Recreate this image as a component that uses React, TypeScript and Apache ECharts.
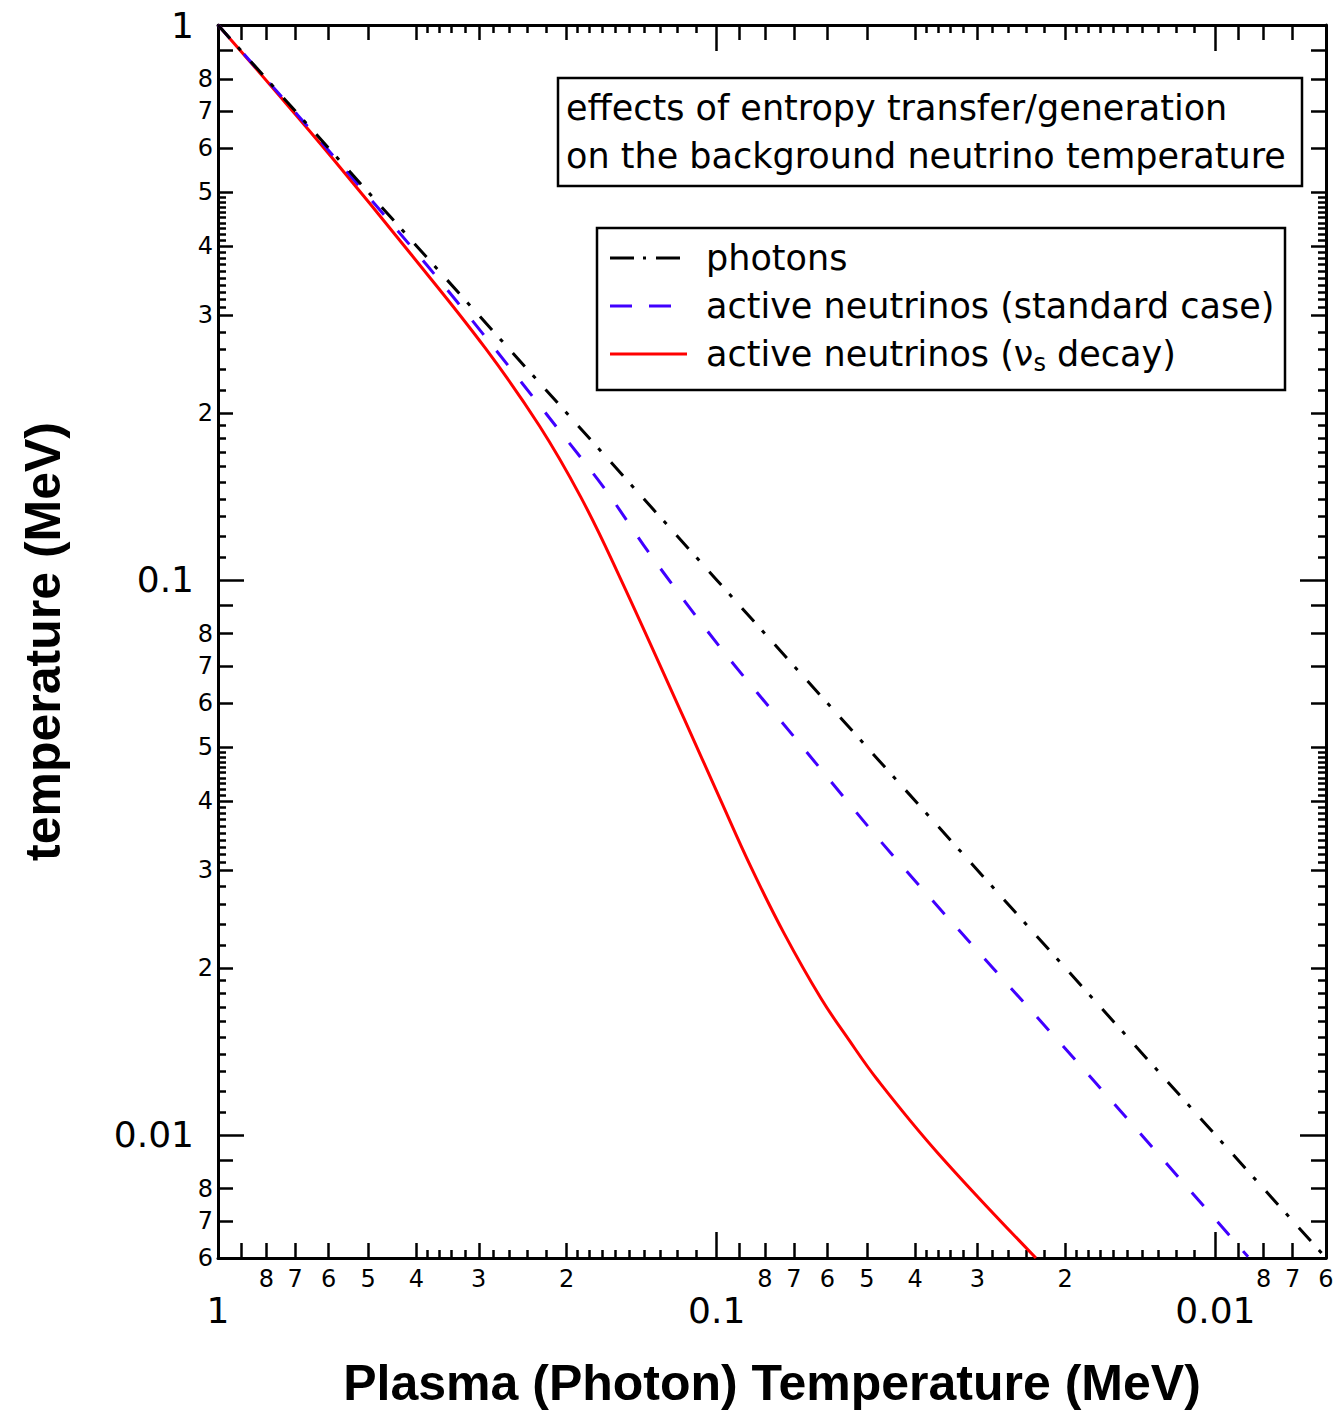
import React, { useEffect, useRef } from "react";
import * as echarts from "echarts";

// ---- data (MeV) ----
// x: plasma (photon) temperature, y: temperature
const photonX = [1, 0.1, 0.01, 0.006];
const photonY = [1, 0.1, 0.01, 0.006];

const standardX = [1, 0.8, 0.6, 0.381, 0.288, 0.2095, 0.167, 0.1357, 0.0982, 0.07, 0.0441, 0.0176, 0.0086];
const standardY = [1, 0.798, 0.594, 0.369, 0.271, 0.1887, 0.1453, 0.1109, 0.0754, 0.0522, 0.0317, 0.01257, 0.00603];

const decayX = [1, 0.768, 0.5877, 0.4117, 0.291, 0.2266, 0.1875, 0.1588, 0.1163, 0.0982, 0.0854, 0.0733, 0.0618, 0.0543, 0.0476, 0.036, 0.0229];
const decayY = [1, 0.761, 0.5735, 0.3879, 0.2616, 0.1894, 0.1413, 0.1042, 0.0563, 0.0401, 0.0304, 0.0231, 0.01763, 0.01483, 0.01257, 0.00927, 0.006];

// ---- tick values ----
const majorTicks = [1, 0.1, 0.01];
const mediumTicks = [0.9, 0.8, 0.7, 0.6, 0.5, 0.4, 0.3, 0.2, 0.09, 0.08, 0.07, 0.06, 0.05, 0.04, 0.03, 0.02, 0.009, 0.008, 0.007, 0.006];
const minorLabels = [0.8, 0.7, 0.6, 0.5, 0.4, 0.3, 0.2, 0.08, 0.07, 0.06, 0.05, 0.04, 0.03, 0.02, 0.008, 0.007, 0.006];
const smallDecades = [1, 0.1];
const xSmallMantissas = [0.38, 0.36, 0.34, 0.32, 0.28, 0.26, 0.24, 0.22, 0.19, 0.18, 0.17, 0.16, 0.15, 0.14, 0.13, 0.12, 0.11];
const ySmallMantissas = [0.49, 0.48, 0.47, 0.46, 0.45, 0.44, 0.43, 0.42, 0.41, 0.39, 0.38, 0.37, 0.36, 0.35, 0.34, 0.33, 0.32, 0.31, 0.28, 0.26, 0.24, 0.22, 0.19, 0.18, 0.17, 0.16, 0.15, 0.14, 0.13, 0.12, 0.11];

const titleLines = ["effects of entropy transfer/generation", "on the background neutrino temperature"];
const legendNames = ["photons", "active neutrinos (standard case)", "active neutrinos (ν{sub|s} decay)"];

const FONT = "DejaVu Sans";
const BOLD_FONT = "Liberation Sans";
const BLUE = "#4000ff";
const RED = "#ff0000";

const expand = (mants: number[]) =>
  smallDecades.flatMap((d) => mants.map((m) => +(m * d).toPrecision(4)));
const xSmallTicks = expand(xSmallMantissas);
const ySmallTicks = expand(ySmallMantissas);

const minorFmt = (v: number) => {
  const e = Math.floor(Math.log10(v) + 1e-9);
  return String(Math.round(v / Math.pow(10, e)));
};
const majorFmt = (v: number) => String(+Number(v).toPrecision(3));

const LO = 0.006;
const HI = 1;

type Kind = "major" | "medium" | "small";

function makeAxis(dim: "x" | "y", pos: string, kind: Kind, labels: boolean) {
  const tickValues =
    kind === "major" ? majorTicks : kind === "medium" ? mediumTicks : dim === "x" ? xSmallTicks : ySmallTicks;
  const len = kind === "major" ? 26 : kind === "medium" ? 15 : 8;
  let axisLabel: any = { show: false };
  if (labels && kind === "major") {
    axisLabel = {
      show: true,
      customValues: majorTicks,
      formatter: majorFmt,
      color: "#000",
      fontFamily: FONT,
      fontSize: 36,
      margin: dim === "x" ? 34 : 24,
      hideOverlap: false,
    };
  } else if (labels && kind === "medium") {
    axisLabel = {
      show: true,
      customValues: minorLabels,
      formatter: minorFmt,
      color: "#000",
      fontFamily: FONT,
      fontSize: 24,
      margin: dim === "x" ? 9 : 5,
      hideOverlap: false,
    };
  }
  const ax: any = {
    type: "log",
    logBase: 10,
    min: LO,
    max: HI,
    position: pos,
    gridIndex: 0,
    axisLine: { show: kind === "major", onZero: false, lineStyle: { color: "#000", width: 3 } },
    axisTick: {
      show: true,
      inside: true,
      customValues: tickValues,
      length: len,
      lineStyle: { color: "#000", width: 2.5 },
    },
    minorTick: { show: false },
    axisLabel,
    splitLine: { show: false },
    minorSplitLine: { show: false },
  };
  if (dim === "x") ax.inverse = true;
  return ax;
}

const xAxes = [
  {
    ...makeAxis("x", "bottom", "major", true),
    name: "Plasma (Photon) Temperature (MeV)",
    nameLocation: "middle",
    nameGap: 100,
    nameTextStyle: { fontFamily: BOLD_FONT, fontWeight: "bold", fontSize: 50, color: "#000" },
  },
  makeAxis("x", "bottom", "medium", true),
  makeAxis("x", "bottom", "small", false),
  makeAxis("x", "top", "major", false),
  makeAxis("x", "top", "medium", false),
  makeAxis("x", "top", "small", false),
];

const yAxes = [
  {
    ...makeAxis("y", "left", "major", true),
    name: "temperature (MeV)",
    nameLocation: "middle",
    nameRotate: 90,
    nameGap: 150,
    nameTextStyle: { fontFamily: BOLD_FONT, fontWeight: "bold", fontSize: 50, color: "#000" },
  },
  makeAxis("y", "left", "medium", true),
  makeAxis("y", "left", "small", false),
  makeAxis("y", "right", "major", false),
  makeAxis("y", "right", "medium", false),
  makeAxis("y", "right", "small", false),
];

const pairs = (xs: number[], ys: number[]) => xs.map((x, i) => [x, ys[i]]);

const textStyle = { fontFamily: FONT, fontSize: 35, fill: "#000", verticalAlign: "middle", align: "left" };

const option: any = {
  animation: false,
  backgroundColor: "#fff",
  grid: { left: 218, top: 25, width: 1108, height: 1233, containLabel: false, outerBoundsMode: "none" },
  xAxis: xAxes,
  yAxis: yAxes,
  series: [
    {
      type: "line",
      name: "active neutrinos (νs decay)",
      data: pairs(decayX, decayY),
      xAxisIndex: 0,
      yAxisIndex: 0,
      symbol: "none",
      smooth: 0.4,
      clip: true,
      lineStyle: { color: RED, width: 3 },
      z: 2,
    },
    {
      type: "line",
      name: "active neutrinos (standard case)",
      data: pairs(standardX, standardY),
      xAxisIndex: 0,
      yAxisIndex: 0,
      symbol: "none",
      smooth: 0.3,
      clip: true,
      lineStyle: { color: BLUE, width: 3, type: [18, 21] },
      z: 3,
    },
    {
      type: "line",
      name: "photons",
      data: pairs(photonX, photonY),
      xAxisIndex: 0,
      yAxisIndex: 0,
      symbol: "none",
      clip: true,
      lineStyle: { color: "#000", width: 3, type: [18, 12, 4, 15] },
      z: 4,
    },
  ],
  graphic: [
    { type: "rect", z: 100, shape: { x: 558, y: 78, width: 744, height: 108 }, style: { fill: "#fff", stroke: "#000", lineWidth: 2.5 } },
    { type: "text", z: 101, x: 566, y: 108, style: { ...textStyle, text: titleLines[0] } },
    { type: "text", z: 101, x: 566, y: 156, style: { ...textStyle, text: titleLines[1] } },
    { type: "rect", z: 100, shape: { x: 597, y: 228, width: 688, height: 162 }, style: { fill: "#fff", stroke: "#000", lineWidth: 2.5 } },
    { type: "line", z: 101, shape: { x1: 610, y1: 258, x2: 682, y2: 258 }, style: { stroke: "#000", lineWidth: 3, lineDash: [24, 9, 3, 10] } },
    { type: "line", z: 101, shape: { x1: 610, y1: 306, x2: 672, y2: 306 }, style: { stroke: BLUE, lineWidth: 3, lineDash: [22, 17] } },
    { type: "line", z: 101, shape: { x1: 610, y1: 354, x2: 687, y2: 354 }, style: { stroke: RED, lineWidth: 3 } },
    { type: "text", z: 101, x: 706, y: 258, style: { ...textStyle, text: legendNames[0] } },
    { type: "text", z: 101, x: 706, y: 306, style: { ...textStyle, text: legendNames[1] } },
    {
      type: "text",
      z: 101,
      x: 706,
      y: 354,
      style: {
        ...textStyle,
        lineHeight: 42,
        text: legendNames[2],
        rich: { sub: { fontFamily: FONT, fontSize: 24, lineHeight: 24, verticalAlign: "bottom", fill: "#000" } },
      },
    },
  ],
};

export default function App() {
  const ref = useRef<HTMLDivElement>(null);
  useEffect(() => {
    if (!ref.current) return;
    const chart = echarts.init(ref.current, null, { renderer: "svg" });
    chart.setOption(option);
    return () => chart.dispose();
  }, []);
  return (
    <div
      ref={ref}
      style={{ position: "absolute", left: 0, top: 0, width: 1338, height: 1415, background: "#fff" }}
    />
  );
}
